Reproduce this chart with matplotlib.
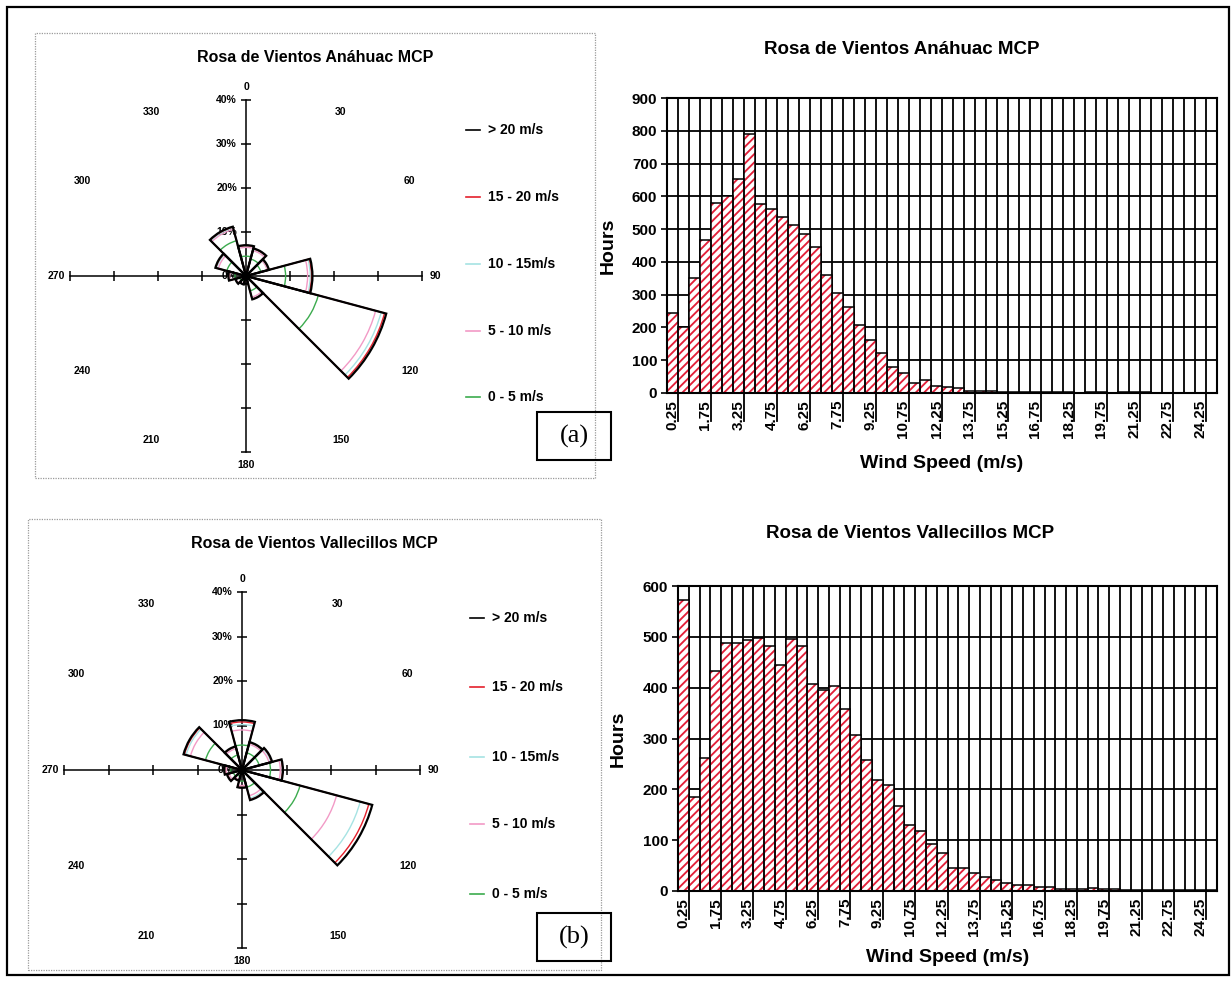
import numpy as np
import matplotlib
matplotlib.use("Agg")
import matplotlib.pyplot as plt
import matplotlib.transforms as mtransforms
from matplotlib.patches import Rectangle
from matplotlib.lines import Line2D
from matplotlib import font_manager

# ---------------------------------------------------------------- data
directions = [0, 30, 60, 90, 120, 150, 180, 210, 240, 270, 300, 330]
speed_classes = ["0 - 5 m/s", "5 - 10 m/s", "10 - 15m/s", "15 - 20 m/s", "> 20 m/s"]
class_colors = ["#3cab4e", "#f29ac6", "#a6e3e3", "#e4202c", "#000000"]

# Anáhuac: frequency (%) per direction sector and speed class
anahuac_0_5 = [4.5, 4.0, 3.5, 9.0, 17.0, 3.5, 1.0, 1.2, 1.5, 2.5, 4.5, 8.3]
anahuac_5_10 = [2.0, 2.0, 1.5, 5.0, 13.5, 1.5, 0.5, 0.6, 0.8, 1.2, 2.0, 2.7]
anahuac_10_15 = [0.3, 0.3, 0.2, 0.6, 1.3, 0.3, 0.1, 0.1, 0.1, 0.2, 0.4, 0.3]
anahuac_15_20 = [0.1, 0.1, 0.1, 0.3, 0.8, 0.1, 0.1, 0.05, 0.05, 0.05, 0.2, 0.2]
anahuac_20p = [0.1, 0.1, 0.1, 0.2, 0.4, 0.1, 0.05, 0.05, 0.05, 0.05, 0.1, 0.1]

# Vallecillos: frequency (%) per direction sector and speed class
valle_0_5 = [5.6, 4.0, 4.0, 6.4, 13.5, 4.0, 2.5, 1.5, 2.0, 2.5, 8.5, 3.5]
valle_5_10 = [3.4, 2.0, 2.3, 2.2, 8.5, 2.0, 1.0, 0.7, 1.0, 1.0, 3.5, 1.5]
valle_10_15 = [1.2, 0.3, 0.4, 0.4, 5.5, 0.6, 0.3, 0.2, 0.3, 0.3, 1.0, 0.3]
valle_15_20 = [0.6, 0.1, 0.2, 0.1, 2.0, 0.3, 0.1, 0.05, 0.1, 0.1, 0.4, 0.1]
valle_20p = [0.4, 0.1, 0.1, 0.1, 0.8, 0.1, 0.1, 0.05, 0.1, 0.1, 0.2, 0.1]

# wind speed bins (0.5 m/s wide, labelled by their centre)
speed_bins = np.arange(0.25, 25.0, 0.5)
speed_tick_labels = ["0.25", "1.75", "3.25", "4.75", "6.25", "7.75", "9.25",
                     "10.75", "12.25", "13.75", "15.25", "16.75", "18.25",
                     "19.75", "21.25", "22.75", "24.25"]

anahuac_hours = [243, 202, 352, 468, 580, 600, 653, 790, 578, 562,
                 536, 513, 486, 444, 359, 305, 261, 207, 161, 122,
                 80, 62, 32, 40, 20, 18, 14, 7, 6, 5,
                 4, 4, 3, 3, 2, 2, 2, 0, 4, 4,
                 1, 2, 2, 2, 1, 1, 1, 0, 0, 0]

valle_hours = [572, 184, 262, 433, 488, 487, 493, 498, 482, 445,
               495, 482, 408, 396, 403, 359, 306, 257, 219, 208,
               167, 130, 118, 92, 74, 46, 46, 36, 28, 22,
               16, 11, 11, 8, 7, 3, 3, 4, 5, 4,
               3, 2, 2, 2, 1, 1, 1, 1, 1, 1]

# ---------------------------------------------------------------- style
installed = {f.name for f in font_manager.fontManager.ttflist}
NARROW = "Liberation Sans Narrow" if "Liberation Sans Narrow" in installed else "Liberation Sans"
plt.rcParams["font.family"] = ["Liberation Sans", "DejaVu Sans"]
plt.rcParams["font.weight"] = "bold"
plt.rcParams["hatch.linewidth"] = 1.35

W, H = 1232, 981
fig = plt.figure(figsize=(W / 100, H / 100), dpi=100)


def fx(x):
    return x / W


def fy(y):
    return 1 - y / H


def px_box(left, top, right, bottom):
    return [fx(left), fy(bottom), (right - left) / W, (bottom - top) / H]


def frame(left, top, right, bottom, **kw):
    fig.add_artist(Rectangle((fx(left), fy(bottom)), (right - left) / W,
                             (bottom - top) / H, transform=fig.transFigure,
                             fill=False, **kw))


# outer frame of the whole figure
frame(7, 7, 1229, 975, edgecolor="black", linewidth=1.6)


def draw_rose(panel, center, unit, classes, title, title_y, legend_x, legend_ys,
              tag, tag_box):
    frame(*panel, edgecolor="#9a9a9a", linewidth=0.9, linestyle=(0, (1, 1)))
    fig.text(fx((panel[0] + panel[2]) / 2), fy(title_y), title, ha="center",
             va="center", fontsize=11.5, fontweight="bold")

    cx, cy = center
    R = unit * 40
    ax = fig.add_axes(px_box(cx - R, cy - R, cx + R, cy + R), projection="polar")
    ax.set_theta_zero_location("N")
    ax.set_theta_direction(-1)
    ax.set_ylim(0, 40)
    ax.set_axis_off()

    theta = np.radians(directions)
    cumulative = np.cumsum(np.array(classes), axis=0)

    # axis cross with ticks every 10 %
    for a in (0, 90, 180, 270):
        t = np.radians(a)
        ax.plot([t, t], [0, 40], color="black", lw=1.1, zorder=2, clip_on=False)
        mk = "_" if a in (0, 180) else "|"
        ax.plot([t] * 4, [10, 20, 30, 40], ls="none", marker=mk, ms=7, mew=1.1,
                color="black", zorder=2, clip_on=False)

    off = mtransforms.offset_copy(ax.transData, fig=fig, x=-9, y=0, units="dots")
    for r in (0, 10, 20, 30, 40):
        ax.text(0, r, f"{r}%", transform=off, ha="right", va="center",
                fontsize=7.5, fontweight="bold", family=NARROW, zorder=1)

    for a in directions:
        ax.text(np.radians(a), 43, str(a), ha="center", va="center",
                fontsize=7.5, fontweight="bold", family=NARROW)

    for k, (row, col) in enumerate(zip(cumulative, class_colors)):
        ax.bar(theta, row, width=np.radians(30), bottom=0, fill=False,
               edgecolor=col, linewidth=1.0 if k < 4 else 1.6, zorder=3 + k)

    # legend, largest class on top
    for (label, col), y in zip(zip(speed_classes[::-1], class_colors[::-1]), legend_ys):
        fig.add_artist(Line2D([fx(legend_x), fx(legend_x + 14)], [fy(y), fy(y)],
                              transform=fig.transFigure, color=col, lw=1.2))
        fig.text(fx(legend_x + 22), fy(y), label, ha="left", va="center",
                 fontsize=10, fontweight="bold", family=NARROW)

    frame(*tag_box, edgecolor="black", linewidth=1.5)
    fig.text(fx((tag_box[0] + tag_box[2]) / 2), fy((tag_box[1] + tag_box[3]) / 2),
             tag, ha="center", va="center", fontsize=19, fontweight="normal",
             family=["Liberation Serif", "DejaVu Serif"])


def draw_histogram(box, hours, ymax, title, title_xy, hours_x, xlabel_y):
    ax = fig.add_axes(px_box(*box))
    x = np.arange(len(speed_bins))
    ax.bar(x, hours, width=1.0, color="white", edgecolor="#e3203a",
           hatch="////", linewidth=0, zorder=2)
    ax.bar(x, hours, width=1.0, fill=False, edgecolor="black",
           linewidth=1.1, zorder=3)

    ax.set_xlim(-0.5, len(speed_bins) - 0.5)
    ax.set_ylim(0, ymax)
    ax.set_yticks(np.arange(0, ymax + 1, 100))
    ax.tick_params(axis="y", length=4, width=1.2, labelsize=11, pad=3)

    label_idx = np.arange(0, len(speed_bins), 3)
    ax.set_xticks(label_idx)
    ax.set_xticklabels(speed_tick_labels, rotation=90, fontsize=11,
                       fontweight="bold")
    ax.tick_params(axis="x", length=0, pad=5)
    ax.set_xticks(np.arange(-0.5, len(speed_bins)), minor=True)
    ax.tick_params(axis="x", which="minor", length=0)

    ax.set_axisbelow(True)
    ax.grid(True, axis="y", which="major", color="black", lw=1.3)
    ax.grid(True, axis="x", which="minor", color="black", lw=1.3)
    for s in ax.spines.values():
        s.set_linewidth(1.5)

    # long tick marks below the axis next to each labelled bin
    trans = mtransforms.blended_transform_factory(ax.transData, ax.transAxes)
    depth = 28 / (box[3] - box[1])
    for i in label_idx:
        ax.add_line(Line2D([i + 0.5, i + 0.5], [0, -depth], transform=trans,
                           color="black", lw=1.3, clip_on=False))

    fig.text(fx(title_xy[0]), fy(title_xy[1]), title, ha="center", va="center",
             fontsize=13.5, fontweight="bold")
    fig.text(fx(hours_x), fy((box[1] + box[3]) / 2), "Hours", rotation=90,
             ha="center", va="center", fontsize=14, fontweight="bold")
    fig.text(fx((box[0] + box[2]) / 2), fy(xlabel_y), "Wind Speed (m/s)",
             ha="center", va="center", fontsize=14, fontweight="bold")


draw_rose(panel=(35, 33, 595, 478), center=(246, 276), unit=4.4,
          classes=[anahuac_0_5, anahuac_5_10, anahuac_10_15, anahuac_15_20, anahuac_20p],
          title="Rosa de Vientos Anáhuac MCP", title_y=57,
          legend_x=466, legend_ys=[130, 197, 264, 331, 397],
          tag="(a)", tag_box=(537, 412, 611, 460))

draw_rose(panel=(28, 519, 601, 970), center=(242, 770), unit=4.45,
          classes=[valle_0_5, valle_5_10, valle_10_15, valle_15_20, valle_20p],
          title="Rosa de Vientos Vallecillos MCP", title_y=543,
          legend_x=470, legend_ys=[618, 687, 757, 824, 894],
          tag="(b)", tag_box=(537, 913, 611, 961))

draw_histogram((667, 98, 1217, 393), anahuac_hours, 900,
               "Rosa de Vientos Anáhuac MCP", (902, 49), 608, 463)
draw_histogram((678, 586, 1217, 891), valle_hours, 600,
               "Rosa de Vientos Vallecillos MCP", (910, 533), 618, 958)

fig.savefig("out.png", dpi=100)
